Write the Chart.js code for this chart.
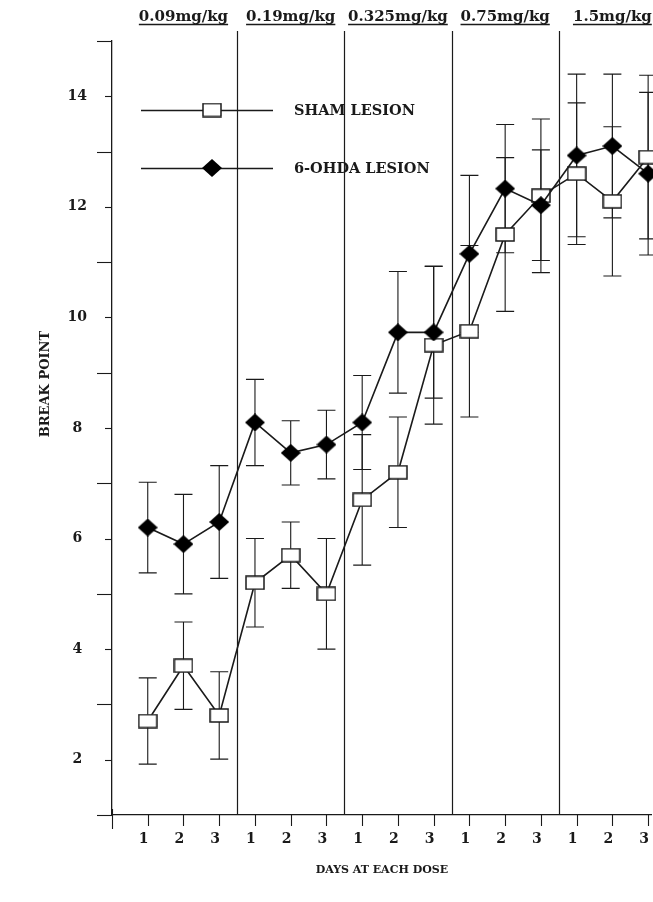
<!DOCTYPE html>
<html>
<head>
<meta charset="utf-8">
<script src="https://cdn.jsdelivr.net/npm/chart.js@4/dist/chart.umd.min.js"></script>
<style>
html,body{margin:0;padding:0;background:#fff;}
canvas{display:block;}
</style>
</head>
<body>
<canvas id="c" width="653" height="902"></canvas>
<script>
// ---- data ----
const days = [1,2,3,4,5,6,7,8,9,10,11,12,13,14,15];
const dayLabels = ['1','2','3','1','2','3','1','2','3','1','2','3','1','2','3'];
const doseLabels = ['0.09mg/kg','0.19mg/kg','0.325mg/kg','0.75mg/kg','1.5mg/kg'];
const doseCenters = [2,5,8,11,14];
const doseBoundaries = [3.5,6.5,9.5,12.5];
const yLabelValues = [2,4,6,8,10,12,14];
const seriesNames = ['SHAM LESION','6-OHDA LESION'];
const yTitle = 'BREAK POINT';
const xTitle = 'DAYS AT EACH DOSE';
const shamMean = [2.7,3.7,2.8,5.2,5.7,5.0,6.7,7.2,9.5,9.75,11.5,12.2,12.6,12.1,12.9];
const shamErr  = [0.78,0.79,0.79,0.8,0.6,1.0,1.18,1.0,1.43,1.55,1.39,1.39,1.28,1.35,1.48];
const ohdaMean = [6.2,5.9,6.3,8.1,7.55,7.7,8.1,9.73,9.73,11.15,12.33,12.03,12.93,13.1,12.6];
const ohdaErr  = [0.82,0.9,1.02,0.78,0.58,0.62,0.85,1.1,1.19,1.42,1.16,1.0,1.47,1.3,1.47];

const INK = '#1a1a1a';
const SERIF = '"DejaVu Serif", "Liberation Serif", serif';

// ---- marker images ----
function makeSquare(){
  const c = document.createElement('canvas'); c.width = 20; c.height = 15;
  const g = c.getContext('2d');
  g.fillStyle = '#fff'; g.fillRect(1,1,18,13);
  g.strokeStyle = INK; g.lineWidth = 1.5; g.strokeRect(1,1,18,13);
  return c;
}
function makeDiamond(){
  const c = document.createElement('canvas'); c.width = 20; c.height = 18;
  const g = c.getContext('2d');
  g.fillStyle = '#000';
  g.beginPath(); g.moveTo(10,0); g.lineTo(20,9); g.lineTo(10,18); g.lineTo(0,9); g.closePath(); g.fill();
  return c;
}
const sqImg = makeSquare();
const dmImg = makeDiamond();

const decor = {
  id: 'decor',
  beforeDatasetsDraw(chart){
    const {ctx, chartArea, scales:{x, y}} = chart;
    ctx.save();
    ctx.strokeStyle = INK; ctx.lineWidth = 1.2;
    doseBoundaries.forEach(b => {
      const px = Math.round(x.getPixelForValue(b)) + 0.5;
      ctx.beginPath(); ctx.moveTo(px, chartArea.top - 10); ctx.lineTo(px, chartArea.bottom); ctx.stroke();
    });
    ctx.lineWidth = 1.1;
    const drawErr = (means, errs) => {
      means.forEach((m, i) => {
        const px = x.getPixelForValue(days[i]);
        const t = y.getPixelForValue(m + errs[i]);
        const b = y.getPixelForValue(m - errs[i]);
        ctx.beginPath();
        ctx.moveTo(px, t); ctx.lineTo(px, b);
        ctx.moveTo(px - 9, t); ctx.lineTo(px + 9, t);
        ctx.moveTo(px - 9, b); ctx.lineTo(px + 9, b);
        ctx.stroke();
      });
    };
    drawErr(shamMean, shamErr);
    drawErr(ohdaMean, ohdaErr);
    ctx.restore();
  },
  afterDraw(chart){
    const {ctx, chartArea, scales:{x, y}} = chart;
    ctx.save();
    ctx.strokeStyle = INK; ctx.lineWidth = 1.1;
    // y tick marks
    for (let v = 1; v <= 15; v++) {
      const py = Math.round(y.getPixelForValue(v)) + 0.5;
      const len = (v % 2 === 1) ? 15 : 7;
      ctx.beginPath(); ctx.moveTo(chartArea.left - len, py); ctx.lineTo(chartArea.left, py); ctx.stroke();
    }
    // x tick marks
    days.forEach(d => {
      const px = Math.round(x.getPixelForValue(d)) + 0.5;
      ctx.beginPath(); ctx.moveTo(px, chartArea.bottom); ctx.lineTo(px, chartArea.bottom + 11); ctx.stroke();
    });
    // origin tick
    ctx.beginPath(); ctx.moveTo(chartArea.left + 0.5, chartArea.bottom - 6); ctx.lineTo(chartArea.left + 0.5, chartArea.bottom + 14); ctx.stroke();
    // dose labels (underlined)
    ctx.fillStyle = INK;
    ctx.font = 'bold 15px ' + SERIF;
    ctx.textAlign = 'center'; ctx.textBaseline = 'alphabetic';
    doseLabels.forEach((lab, i) => {
      let cx = x.getPixelForValue(doseCenters[i]);
      const w = ctx.measureText(lab).width;
      if (cx + w / 2 > chart.width - 1) cx = chart.width - 1 - w / 2;
      ctx.fillText(lab, cx, 21);
      ctx.lineWidth = 1.4;
      ctx.beginPath(); ctx.moveTo(cx - w / 2, 24.5); ctx.lineTo(cx + w / 2, 24.5); ctx.stroke();
    });
    // legend
    const rows = [{img: sqImg, y: 110}, {img: dmImg, y: 168}];
    ctx.font = 'bold 14.5px ' + SERIF;
    ctx.textAlign = 'left'; ctx.textBaseline = 'middle';
    rows.forEach((r, i) => {
      ctx.lineWidth = 1.3;
      ctx.beginPath(); ctx.moveTo(141, r.y + 0.5); ctx.lineTo(273, r.y + 0.5); ctx.stroke();
      ctx.drawImage(r.img, 212 - r.img.width / 2, r.y - r.img.height / 2);
      ctx.fillText(seriesNames[i], 294, r.y + 1);
    });
    // y axis title
    ctx.save();
    ctx.translate(46, 384);
    ctx.rotate(-Math.PI / 2);
    ctx.font = 'bold 13px ' + SERIF;
    ctx.textAlign = 'center'; ctx.textBaseline = 'middle';
    ctx.fillText(yTitle, 0, 0);
    ctx.restore();
    ctx.restore();
  }
};

new Chart(document.getElementById('c'), {
  type: 'line',
  data: {
    datasets: [
      {
        label: seriesNames[1],
        data: days.map((d, i) => ({x: d, y: ohdaMean[i]})),
        borderColor: INK, borderWidth: 1.6,
        pointStyle: dmImg, pointRadius: 9,
        tension: 0, clip: false
      },
      {
        label: seriesNames[0],
        data: days.map((d, i) => ({x: d, y: shamMean[i]})),
        borderColor: INK, borderWidth: 1.6,
        pointStyle: sqImg, pointRadius: 9,
        tension: 0, clip: false
      }
    ]
  },
  options: {
    responsive: false,
    animation: false,
    devicePixelRatio: 1,
    layout: {autoPadding: false, padding: {top: 41, left: 0, right: 0, bottom: 0}},
    plugins: {legend: {display: false}, tooltip: {enabled: false}},
    scales: {
      x: {
        type: 'linear', min: 0, max: 15.1,
        afterBuildTicks: s => { s.ticks = days.map(d => ({value: d})); },
        afterFit: s => { s.height = 87; },
        grid: {display: true, drawOnChartArea: false, drawTicks: true, tickLength: 16, color: 'rgba(0,0,0,0)'},
        border: {display: true, color: INK, width: 1.3},
        ticks: {
          padding: 0,
          labelOffset: -4,
          color: INK,
          font: {family: SERIF, size: 14, weight: 'bold'},
          callback: (v) => dayLabels[days.indexOf(v)] || ''
        },
        title: {
          display: true, text: xTitle, color: INK,
          font: {family: SERIF, size: 11, weight: 'bold'},
          padding: {top: 0, bottom: 25}
        }
      },
      y: {
        type: 'linear', min: 1, max: 15,
        afterBuildTicks: s => { const t = []; for (let v = 1; v <= 15; v++) t.push({value: v}); s.ticks = t; },
        afterFit: s => { s.width = 112; },
        grid: {display: false, drawTicks: false},
        border: {display: true, color: INK, width: 1.3},
        ticks: {
          padding: 25, crossAlign: 'center',
          color: INK,
          font: {family: SERIF, size: 14, weight: 'bold'},
          callback: (v) => yLabelValues.includes(v) ? String(v) : ''
        },
        title: {display: false}
      }
    }
  },
  plugins: [decor]
});
</script>
</body>
</html>
